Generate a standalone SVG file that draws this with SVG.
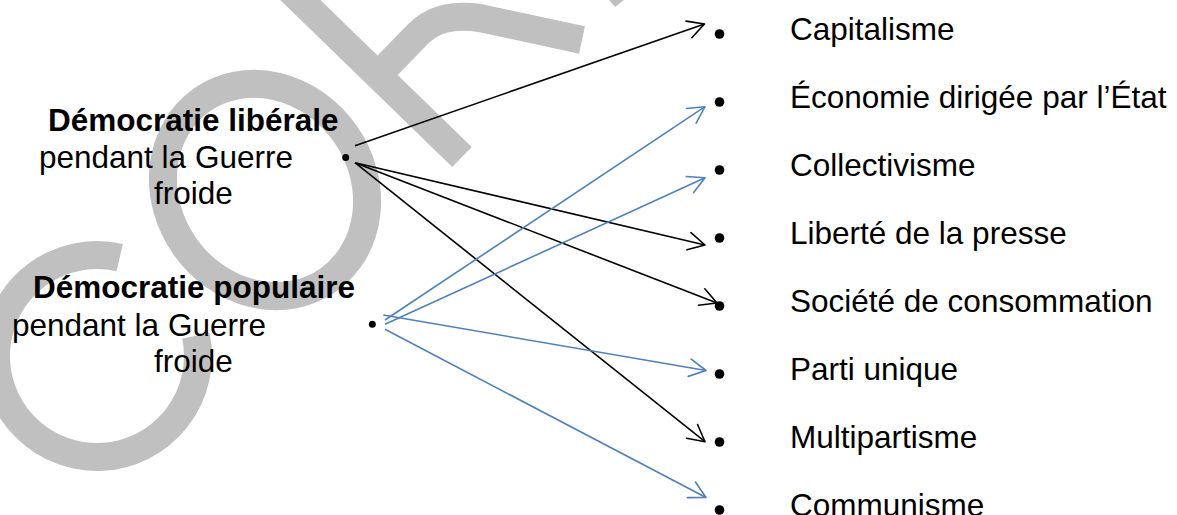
<svg xmlns="http://www.w3.org/2000/svg" width="1177" height="515" viewBox="0 0 1177 515">
<style>
  .wm{fill:none;stroke:#C0C0C0;stroke-width:28;}
  .lbl{font-family:"Liberation Sans",Arial,Helvetica,sans-serif;font-size:31.5px;fill:#000;}
  .src{font-family:"Liberation Sans",Arial,Helvetica,sans-serif;font-size:31.5px;fill:#000;}
  .b{font-weight:bold;}
  .dot{fill:#000;}
  .k{stroke:#000;stroke-width:1.6;fill:none;marker-end:url(#ak);}
  .bl{stroke:#4F81BD;stroke-width:1.6;fill:none;marker-end:url(#ab);}
</style>
<defs>
  <marker id="ak" markerUnits="userSpaceOnUse" orient="auto" refX="0" refY="0" markerWidth="20" markerHeight="20" overflow="visible">
    <path d="M-16.5,-8.8 L0,0 L-16.5,8.8" fill="none" stroke="#000" stroke-width="1.6" stroke-linejoin="round" stroke-linecap="round"/>
  </marker>
  <marker id="ab" markerUnits="userSpaceOnUse" orient="auto" refX="0" refY="0" markerWidth="20" markerHeight="20" overflow="visible">
    <path d="M-16.5,-8.8 L0,0 L-16.5,8.8" fill="none" stroke="#4F81BD" stroke-width="1.6" stroke-linejoin="round" stroke-linecap="round"/>
  </marker>
</defs>
<rect width="1177" height="515" fill="#fff"/>
<g id="watermark">
  <path class="wm" d="M119.7,257.6 A101,101 0 1 0 195.9,335.7"/>
  <ellipse class="wm" cx="265" cy="190" rx="98" ry="110" transform="rotate(-35 265 190)"/>
  <path class="wm" d="M290,-10 L462,157"/>
  <path class="wm" d="M383,70 L418,34 C432,20 450,14 480,18 L582,40"/>
  <polygon fill="#C0C0C0" points="609,0 624,0 615,7"/>
</g>
<g id="connectors">
  <path class="k" d="M355,145.7 L704.5,24"/>
  <path class="k" d="M355,162.7 L705,245"/>
  <path class="k" d="M355,162.7 L717,303"/>
  <path class="k" d="M355,162.7 L705,441.7"/>
  <path class="bl" d="M385,320 L705,106.7"/>
  <path class="bl" d="M385,324.3 L705,177.7"/>
  <path class="bl" d="M383.3,315 L706,370.5"/>
  <path class="bl" d="M385,329.3 L706,497.5"/>
</g>
<g id="src-liberale">
  <circle class="dot" cx="345.7" cy="157.5" r="3.5"/>
  <text class="src b" x="48" y="130.7">Démocratie libérale</text>
  <text class="src" x="39" y="168">pendant la Guerre</text>
  <text class="src" x="154" y="204">froide</text>
</g>
<g id="src-populaire">
  <circle class="dot" cx="372.3" cy="324.3" r="3.5"/>
  <text class="src b" x="33" y="298.3">Démocratie populaire</text>
  <text class="src" x="12" y="335.5">pendant la Guerre</text>
  <text class="src" x="154" y="372">froide</text>
</g>
<g id="t-capitalisme"><circle class="dot" cx="719.5" cy="34" r="4.8"/><text class="lbl" x="790" y="39.5">Capitalisme</text></g>
<g id="t-economie"><circle class="dot" cx="719.5" cy="102" r="4.8"/><text class="lbl" x="790" y="107.5">Économie dirigée par l’État</text></g>
<g id="t-collectivisme"><circle class="dot" cx="719.5" cy="170" r="4.8"/><text class="lbl" x="790" y="175.5">Collectivisme</text></g>
<g id="t-liberte"><circle class="dot" cx="719.5" cy="238" r="4.8"/><text class="lbl" x="790" y="243.5">Liberté de la presse</text></g>
<g id="t-societe"><circle class="dot" cx="719.5" cy="306" r="4.8"/><text class="lbl" x="790" y="311.5">Société de consommation</text></g>
<g id="t-parti"><circle class="dot" cx="719.5" cy="374" r="4.8"/><text class="lbl" x="790" y="379.5">Parti unique</text></g>
<g id="t-multipartisme"><circle class="dot" cx="719.5" cy="442" r="4.8"/><text class="lbl" x="790" y="447.5">Multipartisme</text></g>
<g id="t-communisme"><circle class="dot" cx="719.5" cy="510" r="4.8"/><text class="lbl" x="790" y="515.5">Communisme</text></g>
</svg>
